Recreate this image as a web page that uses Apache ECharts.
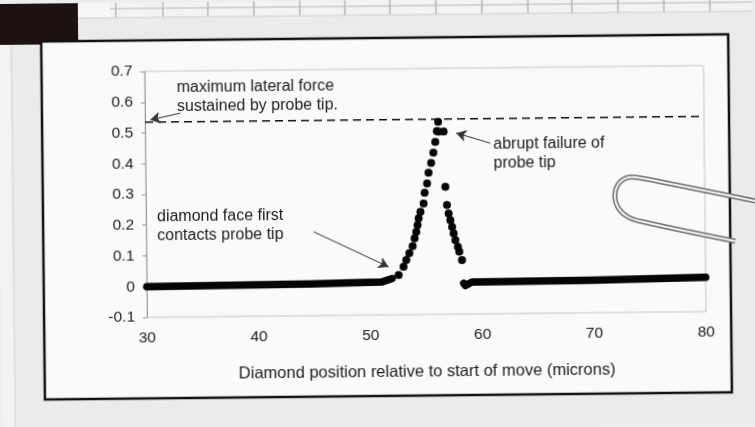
<!DOCTYPE html>
<html>
<head>
<meta charset="utf-8">
<script src="https://cdn.jsdelivr.net/npm/echarts@6/dist/echarts.min.js"></script>
<style>
html,body{margin:0;padding:0;background:#ededed;overflow:hidden;}
#chart{width:755px;height:427px;transform:rotate(-0.6deg);transform-origin:50% 50%;}
</style>
</head>
<body>
<div id="chart"></div>
<script>
// ---- data ----
const xTickValues = [30, 40, 50, 60, 70, 80];
const yTickValues = [-0.1, 0, 0.1, 0.2, 0.3, 0.4, 0.5, 0.6, 0.7];

// flat part before contact (dense dots that merge into a thick line)
const baseLeftX = [30, 44.7, 51.0, 51.94];
const baseLeftY = [0.0, 0.003, 0.007, 0.018];

// individual dots around the peak
const peakX = [52.54, 52.99, 53.24, 53.52, 53.82, 54.00, 54.16, 54.28, 54.38, 54.55,
               54.84, 54.94, 55.17, 55.31, 55.55, 55.76, 55.94, 56.09, 56.21, 56.25, 56.70,
               56.80, 56.93, 57.07, 57.22, 57.37, 57.50, 57.65, 57.87, 57.99, 58.22];
const peakY = [0.029, 0.056, 0.078, 0.100, 0.123, 0.148, 0.169, 0.191, 0.213, 0.234,
               0.261, 0.296, 0.326, 0.361, 0.393, 0.426, 0.461, 0.496, 0.526, 0.494, 0.494,
               0.315, 0.255, 0.228, 0.206, 0.184, 0.163, 0.141, 0.119, 0.103, 0.076];

// flat part after failure
const baseRightX = [58.35, 58.5, 59.1, 60.1, 69.6, 80];
const baseRightY = [0.0, -0.007, 0.004, 0.004, 0.006, 0.011];

const maxForce = 0.535;

const xTitle = 'Diamond position relative to start of move (microns)';
const noteMax = ['maximum lateral force', 'sustained by probe tip.'];
const noteContact = ['diamond face first', 'contacts probe tip'];
const noteFail = ['abrupt failure of', 'probe tip'];

// annotation arrows [from, to] in data units
const arrowMax = [[33.16, 0.563], [30.47, 0.542]];
const arrowContact = [[44.97, 0.173], [51.65, 0.056]];
const arrowFail = [[60.86, 0.455], [57.83, 0.489]];

// ---- chart ----
const zip = (xs, ys) => xs.map((x, i) => [x, ys[i]]);
const FONT = "'Liberation Sans', Arial, sans-serif";
const INK = '#1c1c1c';
const chart = echarts.init(document.getElementById('chart'), null, {renderer: 'canvas'});

const gridLines = [];
[118,165,210,256,302,347,392,438,484,530,574,620,666,712].forEach(x => {
  gridLines.push({type:'line', z:-9, silent:true, shape:{x1:x, y1:0, x2:x, y2:20}, style:{stroke:'#9a9a9a', lineWidth:1}});
});
gridLines.push({type:'line', z:-9, silent:true, shape:{x1:80, y1:6, x2:755, y2:6}, style:{stroke:'#b5b5b5', lineWidth:1}});

const clipPts = [[760,206],[642,181],[629,180],[619,186],[615,198],[618,210],[627,219],[640,224],[735,245]];

function arrowLine(a) {
  return [{coord: a[0], symbol: 'none'}, {coord: a[1], symbol: 'arrow'}];
}

function noteText(lines, x, y) {
  return {
    type: 'text', z: 10, silent: true, left: x, top: y,
    style: {text: lines.join('\n'), font: '16px ' + FONT, fill: INK, lineHeight: 19}
  };
}

const option = {
  animation: false,
  backgroundColor: '#ededed',
  grid: {left: 146, right: 50, top: 69, bottom: 112, show: true, borderColor: '#c6c6c6', borderWidth: 1, backgroundColor: 'transparent'},
  xAxis: {
    type: 'value', min: 30, max: 80, interval: 10,
    name: xTitle, nameLocation: 'middle', nameGap: 49,
    nameTextStyle: {fontFamily: FONT, fontSize: 16.5, color: INK},
    axisLine: {show: false},
    axisTick: {show: false},
    splitLine: {show: false},
    axisLabel: {fontFamily: FONT, fontSize: 15.5, color: INK, margin: 13}
  },
  yAxis: {
    type: 'value', min: -0.1, max: 0.7, interval: 0.1,
    axisLine: {show: true, onZero: false, lineStyle: {color: '#9a9a9a', width: 1}},
    axisTick: {show: true, length: 4, lineStyle: {color: '#9a9a9a'}},
    splitLine: {show: false},
    axisLabel: {fontFamily: FONT, fontSize: 15.5, color: INK, margin: 12,
      formatter: v => String(+v.toFixed(1))}
  },
  graphic: [
    {type:'rect', z:-10, silent:true, shape:{x:0, y:0, width:755, height:427}, style:{fill:'#f3f3f3'}},
    ...gridLines,
    {type:'rect', z:-9, silent:true, shape:{x:80, y:-5, width:32, height:25}, style:{fill:'#f7f7f7'}},
    {type:'rect', z:-8, silent:true, shape:{x:13, y:15, width:760, height:430}, style:{fill:'#ebebeb', stroke:'#d0d0d0', lineWidth:1}},
    {type:'rect', z:-7.5, silent:true, shape:{x:-5, y:-5, width:85, height:46}, style:{fill:'#1d1111'}},
    {type:'rect', z:-7, silent:true, shape:{x:43, y:38, width:687, height:358}, style:{fill:'#fafafa', stroke:'#111', lineWidth:2.5}},
    {type:'polyline', z:20, silent:true, shape:{points: clipPts, smooth: 0.3},
      style:{fill:'none', stroke:'#6f6f6f', lineWidth:5}},
    {type:'polyline', z:21, silent:true, shape:{points: clipPts, smooth: 0.3},
      style:{fill:'none', stroke:'#f4f4f4', lineWidth:2}},
    noteText(noteMax, 178, 76),
    noteText(noteContact, 157, 205),
    noteText(noteFail, 494, 136)
  ],
  series: [
    {
      type: 'line', name: 'before contact', data: zip(baseLeftX, baseLeftY),
      showSymbol: false, lineStyle: {color: '#050505', width: 7.5, cap: 'round', join: 'round'},
      z: 3,
      markLine: {
        silent: true, symbolSize: [9, 10], label: {show: false},
        lineStyle: {color: '#333', width: 1, type: 'solid'},
        data: [arrowLine(arrowMax), arrowLine(arrowContact), arrowLine(arrowFail)]
      }
    },
    {
      type: 'line', name: 'max force', data: [[30, maxForce], [80, maxForce]],
      showSymbol: false, lineStyle: {color: '#111', width: 1.6, type: [8, 5]}, z: 2
    },
    {
      type: 'scatter', name: 'peak', data: zip(peakX, peakY),
      symbol: 'circle', symbolSize: 8, itemStyle: {color: '#050505', opacity: 1}, z: 4
    },
    {
      type: 'line', name: 'after failure', data: zip(baseRightX, baseRightY),
      showSymbol: false, lineStyle: {color: '#050505', width: 7.5, cap: 'round', join: 'round'}, z: 3
    }
  ]
};
chart.setOption(option);
</script>
</body>
</html>
